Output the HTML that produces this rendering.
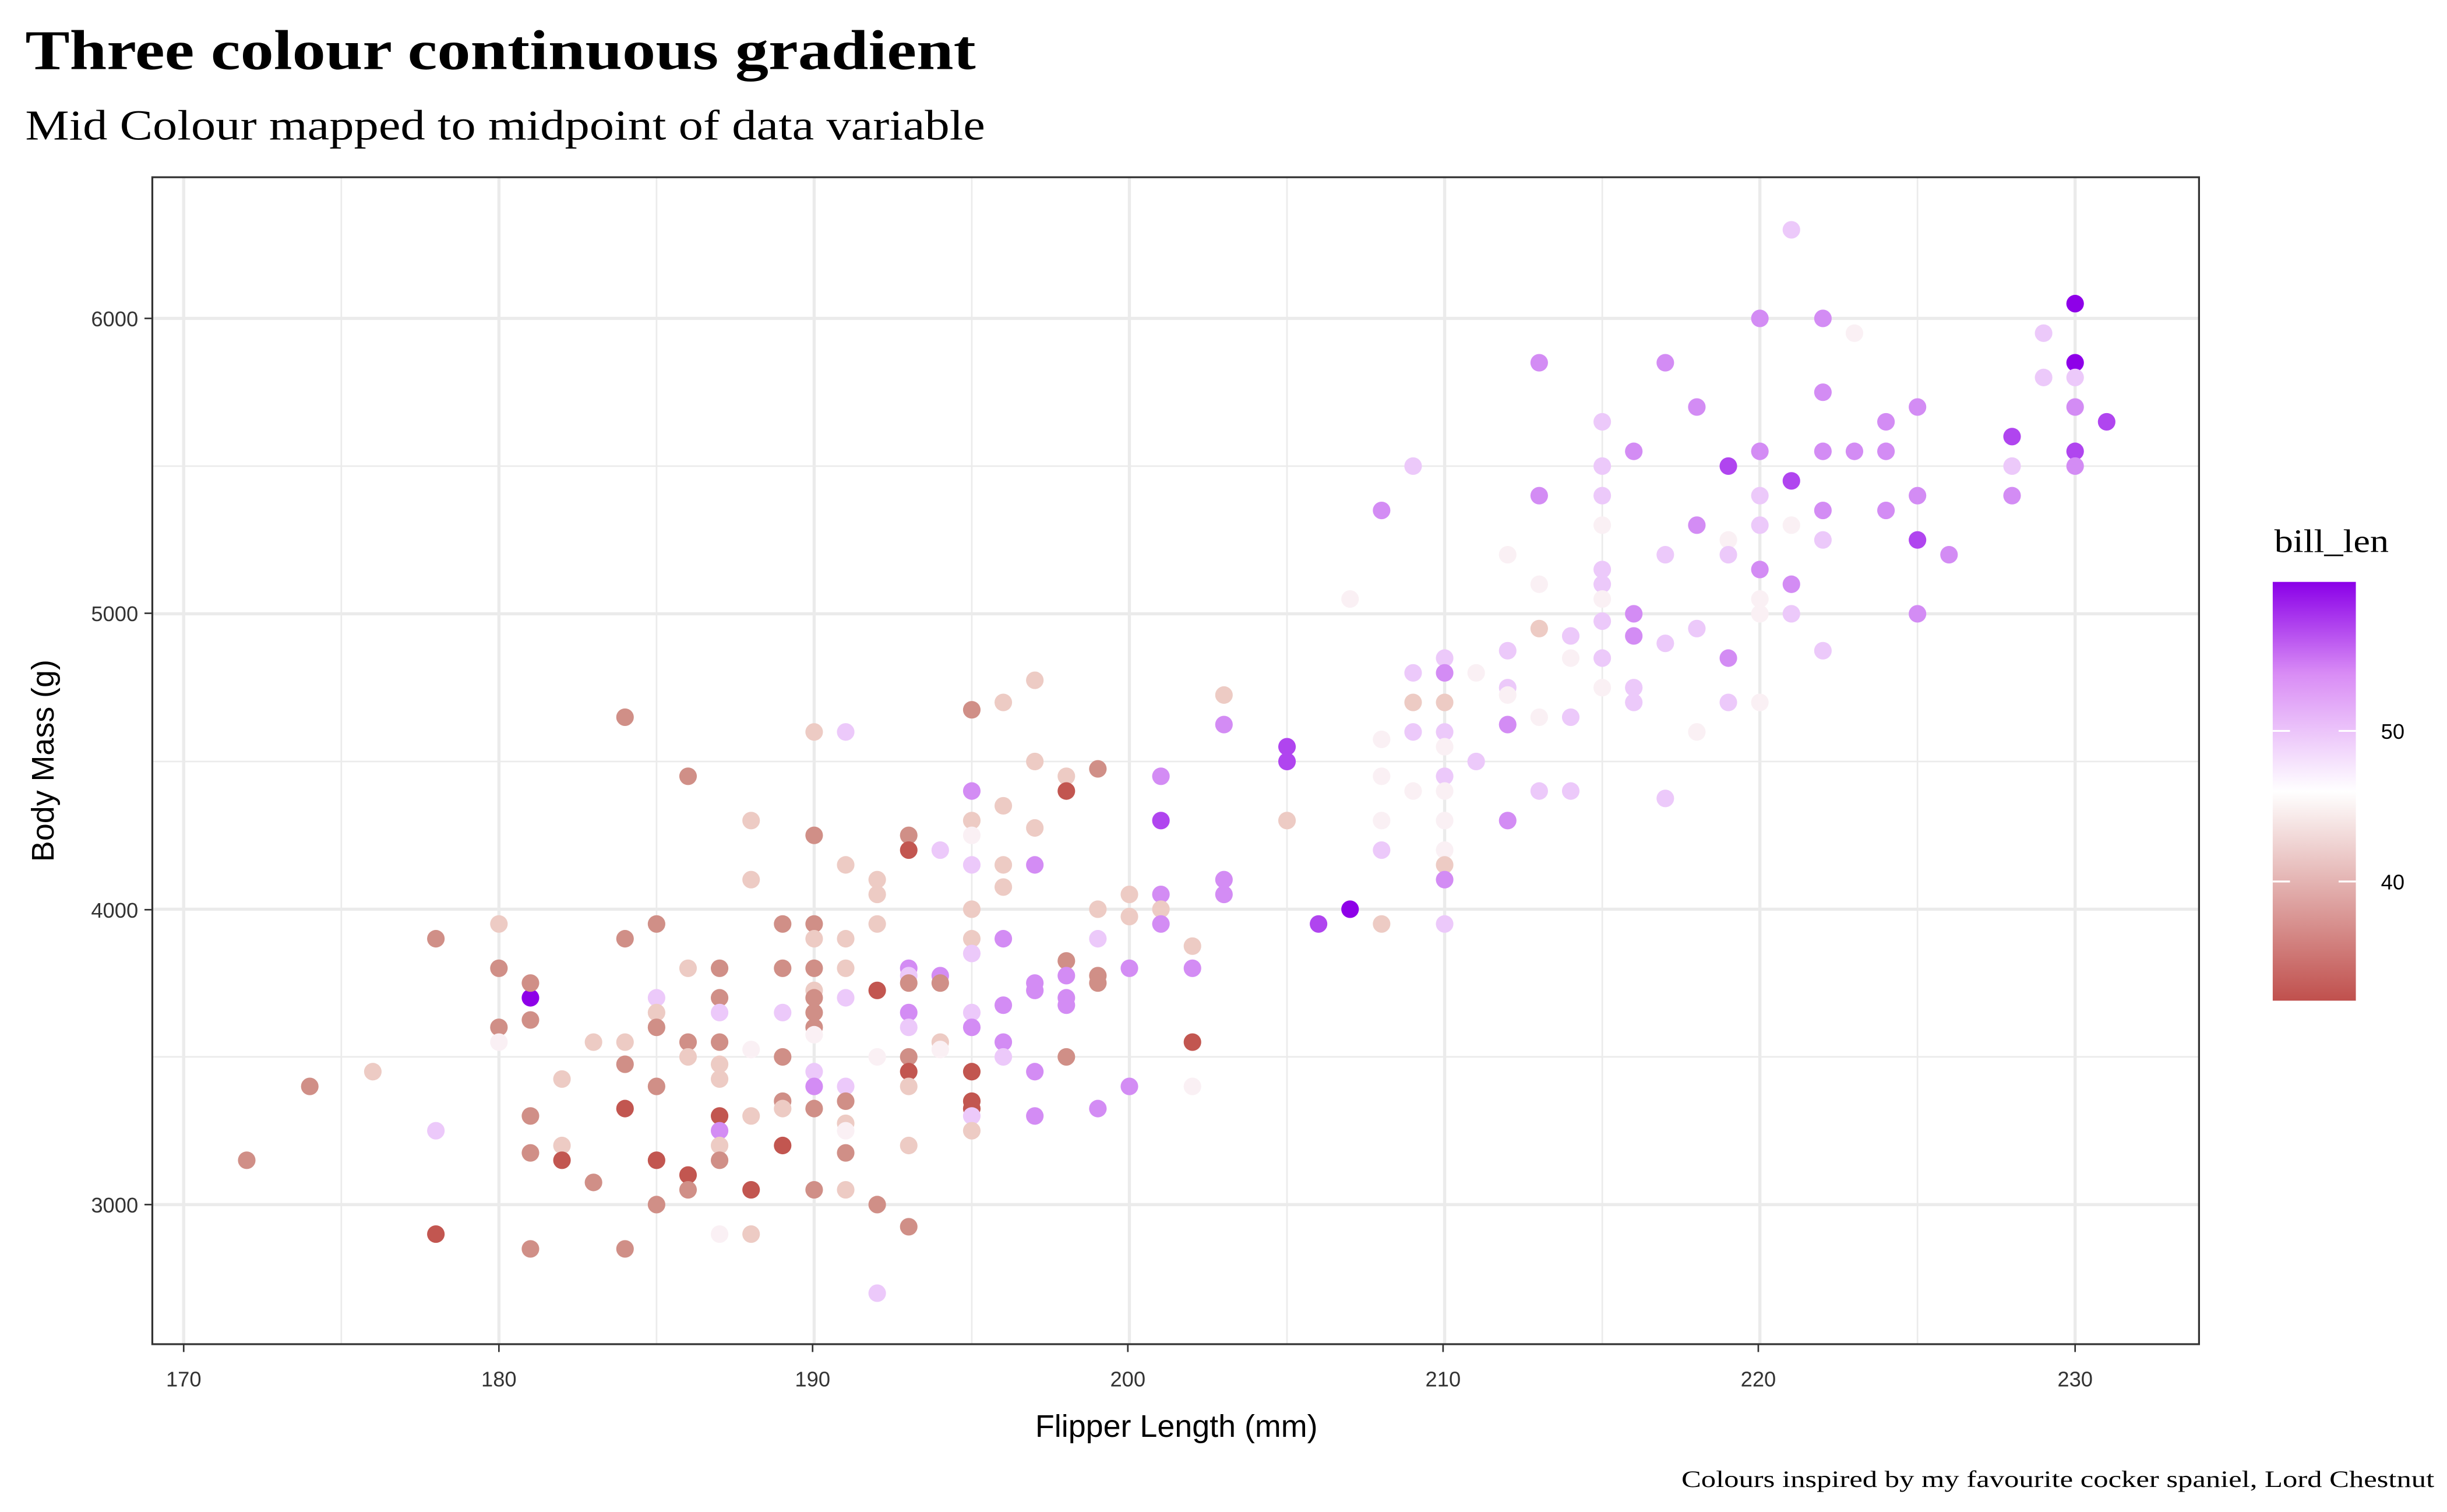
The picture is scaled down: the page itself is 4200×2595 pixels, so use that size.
<!DOCTYPE html>
<html><head><meta charset="utf-8"><style>
html,body{margin:0;padding:0;background:#fff}
svg{display:block}
.t{font-family:"Liberation Sans Narrow","Liberation Sans",sans-serif;fill:#333}
.s{font-family:"Liberation Serif",serif;fill:#000}
</style></head><body>
<svg id="c" width="4200" height="2595" viewBox="0 0 1560 964" xmlns="http://www.w3.org/2000/svg">
<defs>
<linearGradient id="g" x1="0" y1="1" x2="0" y2="0">
<stop offset="0" stop-color="#c0504d"/>
<stop offset="0.5" stop-color="#ffffff"/>
<stop offset="0.78" stop-color="#d98cf5"/>
<stop offset="1" stop-color="#8a00e8"/>
</linearGradient>
</defs>
<rect width="1560" height="964" fill="#fff"/>
<g id="grid" stroke="#ebebeb"></g>
<g id="pts"></g>
<rect x="97" y="113" width="1305" height="744" fill="none" stroke="#333" stroke-width="1.2"/>
<g class="t" font-size="13.5" text-anchor="middle">
<text x="117" y="884">170</text><text x="318" y="884">180</text><text x="518" y="884">190</text><text x="719" y="884">200</text><text x="920" y="884">210</text><text x="1121" y="884">220</text><text x="1323" y="884">230</text>
</g>
<g class="t" font-size="13.5" text-anchor="end">
<text x="88" y="773">3000</text><text x="88" y="585">4000</text><text x="88" y="396">5000</text><text x="88" y="208">6000</text>
</g>
<g stroke="#333" stroke-width="1">
<line x1="117" y1="857" x2="117" y2="862"/><line x1="318" y1="857" x2="318" y2="862"/><line x1="518" y1="857" x2="518" y2="862"/><line x1="719" y1="857" x2="719" y2="862"/><line x1="920" y1="857" x2="920" y2="862"/><line x1="1121" y1="857" x2="1121" y2="862"/><line x1="1323" y1="857" x2="1323" y2="862"/>
<line x1="92" y1="768" x2="97" y2="768"/><line x1="92" y1="580" x2="97" y2="580"/><line x1="92" y1="391" x2="97" y2="391"/><line x1="92" y1="203" x2="97" y2="203"/>
</g>
<text class="t" x="750" y="916" font-size="20" text-anchor="middle" style="fill:#000">Flipper Length (mm)</text>
<text class="t" transform="translate(34,485) rotate(-90)" font-size="20" text-anchor="middle" style="fill:#000">Body Mass (g)</text>
<text class="s" x="16" y="44" font-size="36" font-weight="bold" textLength="606" lengthAdjust="spacingAndGlyphs">Three colour continuous gradient</text>
<text class="s" x="16" y="89" font-size="27" textLength="612" lengthAdjust="spacingAndGlyphs">Mid Colour mapped to midpoint of data variable</text>
<text class="s" x="1072" y="948" font-size="15" textLength="480" lengthAdjust="spacingAndGlyphs">Colours inspired by my favourite cocker spaniel, Lord Chestnut</text>
<text class="s" x="1450" y="352" font-size="21" textLength="73" lengthAdjust="spacingAndGlyphs">bill_len</text>
<rect x="1449" y="371" width="53" height="267" fill="url(#g)"/>
<g stroke="#fff" stroke-width="1.2">
<line x1="1449" y1="466" x2="1460" y2="466"/><line x1="1491" y1="466" x2="1502" y2="466"/>
<line x1="1449" y1="562" x2="1460" y2="562"/><line x1="1491" y1="562" x2="1502" y2="562"/>
</g>
<g class="t" font-size="13.5" style="fill:#000"><text x="1518" y="471">50</text><text x="1518" y="567">40</text></g>
</svg>
<script>
var NS="http://www.w3.org/2000/svg";
var gr=document.getElementById("grid");
function X(f){return 117+(f-170)*20.1;}
function Y(m){return 768-(m-3000)*0.18833;}
function ln(x1,y1,x2,y2,w){var l=document.createElementNS(NS,"line");l.setAttribute("x1",x1);l.setAttribute("y1",y1);l.setAttribute("x2",x2);l.setAttribute("y2",y2);l.setAttribute("stroke-width",w);gr.appendChild(l);}
for(var f=175;f<=225;f+=10)ln(X(f),113,X(f),857,1);
for(var m=2500;m<=6500;m+=1000){var y=Y(m);if(y>113&&y<857)ln(97,y,1402,y,1);}
for(var f=170;f<=230;f+=10)ln(X(f),113,X(f),857,2);
for(var m=3000;m<=6000;m+=1000)ln(97,Y(m),1402,Y(m),2);
var C={R3:"#c25650",R2:"#d08f87",R1:"#edcbc4",W:"#faf0f4",P1:"#ecc9fa",P2:"#d38cf4",P3:"#b045ef",P4:"#8e00e8"};
var d="172,3150,R2;174,3400,R2;176,3450,R1;178,3900,R2;178,3250,P1;178,2900,R3;180,3950,R1;180,3800,R2;180,3600,R2;180,3550,W;181,3700,P4;181,3750,R2;181,3625,R2;181,3300,R2;181,3175,R2;181,2850,R2;182,3425,R1;182,3200,R1;182,3150,R3;183,3550,R1;183,3075,R2;184,4650,R2;184,3900,R2;184,3550,R1;184,3475,R2;184,3325,R3;184,2850,R2;185,3950,R2;185,3700,P1;185,3650,R1;185,3600,R2;185,3400,R2;185,3150,R3;185,3000,R2;186,4450,R2;186,3800,R1;186,3550,R2;186,3500,R1;186,3100,R3;186,3050,R2;187,3800,R2;187,3700,R2;187,3650,P1;187,3550,R2;187,3475,R1;187,3425,R1;187,3300,R3;187,3250,P2;187,3200,R1;187,3150,R2;187,2900,W;188,4300,R1;188,4100,R1;188,3525,W;188,3300,R1;188,3050,R3;188,2900,R1;189,3950,R2;189,3800,R2;189,3650,P1;189,3500,R2;189,3350,R2;189,3325,R1;189,3200,R3;190,4600,R1;190,4250,R2;190,3950,R2;190,3900,R1;190,3800,R2;190,3725,R1;190,3700,R2;190,3650,R2;190,3600,R2;190,3575,W;190,3450,P1;190,3400,P2;190,3325,R2;190,3050,R2;191,4600,P1;191,4150,R1;191,3900,R1;191,3800,R1;191,3700,P1;191,3400,P1;191,3350,R2;191,3275,R1;191,3250,W;191,3175,R2;191,3050,R1;192,4100,R1;192,4050,R1;192,3950,R1;192,3725,R3;192,3500,W;192,3000,R2;192,2700,P1;193,4250,R2;193,4200,R3;193,3800,P2;193,3775,P1;193,3750,R2;193,3650,P2;193,3600,P1;193,3500,R2;193,3450,R3;193,3400,R1;193,3200,R1;193,2925,R2;194,4200,P1;194,3775,P2;194,3750,R2;194,3550,R1;194,3525,W;195,4675,R2;195,4400,P2;195,4300,R1;195,4250,W;195,4150,P1;195,4000,R1;195,3900,R1;195,3850,P1;195,3650,P1;195,3600,P2;195,3450,R3;195,3350,R3;195,3325,R3;195,3300,P1;195,3250,R1;196,4700,R1;196,4350,R1;196,4150,R1;196,4075,R1;196,3900,P2;196,3675,P2;196,3550,P2;196,3500,P1;197,4775,R1;197,4500,R1;197,4275,R1;197,4150,P2;197,3750,P2;197,3725,P2;197,3450,P2;197,3300,P2;198,4450,R1;198,4400,R3;198,3825,R2;198,3775,P2;198,3700,P2;198,3675,P2;198,3500,R2;199,4475,R2;199,4000,R1;199,3900,P1;199,3775,R2;199,3750,R2;199,3325,P2;200,4050,R1;200,3975,R1;200,3800,P2;200,3400,P2;201,4450,P2;201,4300,P3;201,4050,P2;201,4000,R1;201,3950,P2;202,3875,R1;202,3800,P2;202,3550,R3;202,3400,W;203,4725,R1;203,4625,P2;203,4100,P2;203,4050,P2;205,4550,P3;205,4500,P3;205,4300,R1;206,3950,P3;207,4000,P4;207,5050,W;208,5350,P2;208,4575,W;208,4450,W;208,4300,W;208,4200,P1;208,3950,R1;209,5500,P1;209,4800,P1;209,4700,R1;209,4600,P1;209,4400,W;210,4850,P1;210,4800,P2;210,4700,R1;210,4600,P1;210,4550,W;210,4450,P1;210,4400,W;210,4300,W;210,4200,W;210,4150,R1;210,4100,P2;210,3950,P1;211,4800,W;211,4500,P1;212,5200,W;212,4875,P1;212,4750,P1;212,4725,W;212,4625,P2;212,4300,P2;213,5850,P2;213,5400,P2;213,5100,W;213,4950,R1;213,4650,W;213,4400,P1;214,4925,P1;214,4850,W;214,4650,P1;214,4400,P1;215,5650,P1;215,5500,P1;215,5400,P1;215,5300,W;215,5150,P1;215,5100,P1;215,5050,W;215,4975,P1;215,4850,P1;215,4750,W;216,5550,P2;216,5000,P2;216,4925,P2;216,4750,P1;216,4700,P1;217,5850,P2;217,5200,P1;217,4900,P1;217,4375,P1;218,5700,P2;218,5300,P2;218,4950,P1;218,4600,W;219,5500,P3;219,5250,W;219,5200,P1;219,4850,P2;219,4700,P1;220,6000,P2;220,5550,P2;220,5400,P1;220,5300,P1;220,5150,P2;220,5050,W;220,5000,W;220,4700,W;221,6300,P1;221,5450,P3;221,5300,W;221,5100,P2;221,5000,P1;222,6000,P2;222,5750,P2;222,5550,P2;222,5350,P2;222,5250,P1;222,4875,P1;223,5950,W;223,5550,P2;224,5650,P2;224,5550,P2;224,5350,P2;225,5700,P2;225,5400,P2;225,5250,P3;225,5000,P2;226,5200,P2;228,5600,P3;228,5500,P1;228,5400,P2;229,5950,P1;229,5800,P1;230,6050,P4;230,5850,P4;230,5800,P1;230,5700,P2;230,5550,P3;230,5500,P2;231,5650,P3";
var g=document.getElementById("pts");
d.split(";").forEach(function(s){var a=s.split(",");var c=document.createElementNS(NS,"circle");c.setAttribute("cx",X(+a[0]));c.setAttribute("cy",Y(+a[1]));c.setAttribute("r",5.6);c.setAttribute("fill",C[a[2]]);g.appendChild(c);});
</script>
</body></html>
